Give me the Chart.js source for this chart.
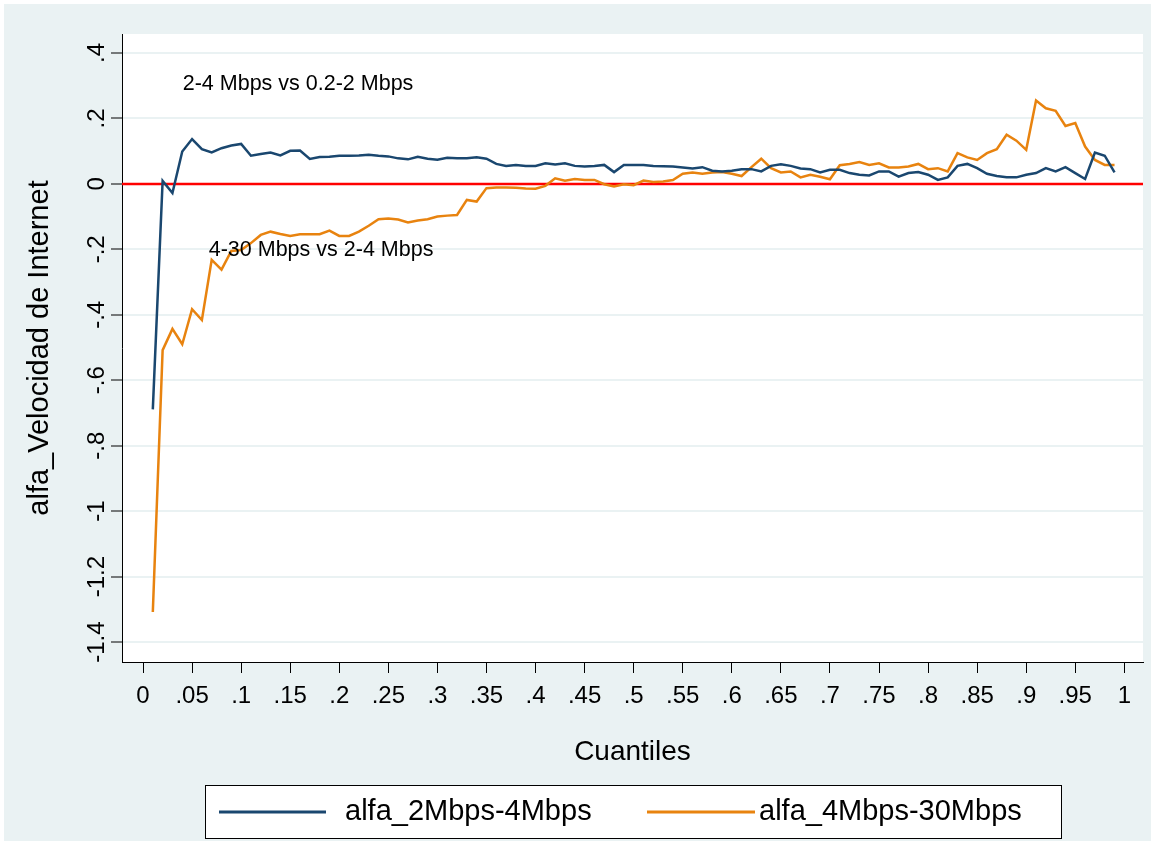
<!DOCTYPE html>
<html>
<head>
<meta charset="utf-8">
<script src="https://cdn.jsdelivr.net/npm/chart.js@4.4.1/dist/chart.umd.min.js"></script>
<style>
  html, body { margin: 0; padding: 0; background: #fff; }
  #wrap { position: relative; width: 1155px; height: 845px; }
</style>
</head>
<body>
<div id="wrap"><canvas id="grafico" width="1155" height="845"></canvas></div>
<script>
const cuantiles = [
  0.01, 0.02, 0.03, 0.04, 0.05, 0.06, 0.07, 0.08, 0.09, 0.10,
  0.11, 0.12, 0.13, 0.14, 0.15, 0.16, 0.17, 0.18, 0.19, 0.20,
  0.21, 0.22, 0.23, 0.24, 0.25, 0.26, 0.27, 0.28, 0.29, 0.30,
  0.31, 0.32, 0.33, 0.34, 0.35, 0.36, 0.37, 0.38, 0.39, 0.40,
  0.41, 0.42, 0.43, 0.44, 0.45, 0.46, 0.47, 0.48, 0.49, 0.50,
  0.51, 0.52, 0.53, 0.54, 0.55, 0.56, 0.57, 0.58, 0.59, 0.60,
  0.61, 0.62, 0.63, 0.64, 0.65, 0.66, 0.67, 0.68, 0.69, 0.70,
  0.71, 0.72, 0.73, 0.74, 0.75, 0.76, 0.77, 0.78, 0.79, 0.80,
  0.81, 0.82, 0.83, 0.84, 0.85, 0.86, 0.87, 0.88, 0.89, 0.90,
  0.91, 0.92, 0.93, 0.94, 0.95, 0.96, 0.97, 0.98, 0.99,
];

const alfa2a4 = [
  -0.689, 0.009, -0.028, 0.099, 0.137, 0.106, 0.096, 0.109, 0.117, 0.122,
  0.086, 0.091, 0.096, 0.087, 0.101, 0.102, 0.076, 0.082, 0.083, 0.086,
  0.086, 0.087, 0.089, 0.086, 0.084, 0.078, 0.075, 0.083, 0.077, 0.074,
  0.080, 0.078, 0.078, 0.081, 0.077, 0.061, 0.055, 0.058, 0.055, 0.055,
  0.063, 0.059, 0.063, 0.055, 0.053, 0.055, 0.058, 0.036, 0.058, 0.058,
  0.058, 0.055, 0.054, 0.053, 0.050, 0.047, 0.051, 0.040, 0.038, 0.040,
  0.045, 0.045, 0.038, 0.055, 0.060, 0.055, 0.047, 0.045, 0.035, 0.043,
  0.043, 0.033, 0.028, 0.026, 0.038, 0.038, 0.022, 0.033, 0.036, 0.028,
  0.012, 0.020, 0.055, 0.061, 0.048, 0.031, 0.024, 0.020, 0.020, 0.028,
  0.033, 0.048, 0.038, 0.051, 0.033, 0.015, 0.096, 0.086, 0.035,
];

const alfa4a30 = [
  -1.308, -0.508, -0.443, -0.490, -0.383, -0.416, -0.232, -0.262, -0.205, -0.202,
  -0.181, -0.156, -0.146, -0.153, -0.159, -0.154, -0.154, -0.154, -0.143, -0.159,
  -0.159, -0.146, -0.128, -0.108, -0.106, -0.109, -0.118, -0.112, -0.108, -0.100,
  -0.097, -0.095, -0.049, -0.054, -0.013, -0.011, -0.011, -0.012, -0.014, -0.015,
  -0.006, 0.017, 0.010, 0.015, 0.012, 0.012, -0.001, -0.008, -0.001, -0.004,
  0.010, 0.006, 0.007, 0.012, 0.031, 0.035, 0.031, 0.035, 0.036, 0.031,
  0.024, 0.051, 0.077, 0.048, 0.035, 0.038, 0.020, 0.028, 0.022, 0.014,
  0.057, 0.061, 0.067, 0.058, 0.063, 0.050, 0.050, 0.053, 0.061, 0.045,
  0.048, 0.038, 0.094, 0.081, 0.073, 0.094, 0.106, 0.150, 0.132, 0.104,
  0.255, 0.231, 0.223, 0.177, 0.186, 0.114, 0.073, 0.058, 0.058,
];

const ticksX = [0, 0.05, 0.1, 0.15, 0.2, 0.25, 0.3, 0.35, 0.4, 0.45, 0.5,
  0.55, 0.6, 0.65, 0.7, 0.75, 0.8, 0.85, 0.9, 0.95, 1];
const ticksY = [0.4, 0.2, 0, -0.2, -0.4, -0.6, -0.8, -1, -1.2, -1.4];
const lineaRef = [0];

// textos dentro del grafico (posicion en unidades de los ejes)
const notas = [
  { texto: '2-4 Mbps vs 0.2-2 Mbps', x: 0.0405, y: 0.306 },
  { texto: '4-30 Mbps vs 2-4 Mbps', x: 0.067, y: -0.202 },
];

const FUENTE = '"Liberation Sans", Arial, sans-serif';
const AZUL = '#1a476f';
const NARANJA = '#e8830f';
const FONDO = '#eaf2f3';

// 0.05 -> .05 , -0.2 -> -.2 (estilo Stata)
function etiqueta(v) {
  const s = String(Math.round(v * 100) / 100);
  return s.replace(/^(-?)0\./, '$1.');
}

function puntos(valores) {
  return cuantiles.map((q, i) => ({ x: q, y: valores[i] }));
}

const fondoPlugin = {
  id: 'fondo',
  beforeDraw(chart) {
    const ctx = chart.ctx;
    const a = chart.chartArea;
    ctx.save();
    ctx.fillStyle = '#fff';
    ctx.fillRect(0, 0, chart.width, chart.height);
    ctx.fillStyle = FONDO;
    ctx.fillRect(4, 4, chart.width - 8, chart.height - 8);
    ctx.fillStyle = '#fff';
    ctx.fillRect(a.left, a.top, a.right - a.left, a.bottom - a.top);
    ctx.restore();
  },
  beforeDatasetsDraw(chart) {
    const ctx = chart.ctx;
    const a = chart.chartArea;
    const yScale = chart.scales.y;
    ctx.save();
    ctx.strokeStyle = '#ff0000';
    ctx.lineWidth = 2.5;
    lineaRef.forEach((v) => {
      const py = yScale.getPixelForValue(v);
      ctx.beginPath();
      ctx.moveTo(a.left, py);
      ctx.lineTo(a.right, py);
      ctx.stroke();
    });
    ctx.restore();
  },
  afterDraw(chart) {
    const ctx = chart.ctx;
    const xScale = chart.scales.x;
    const yScale = chart.scales.y;
    ctx.save();

    // etiquetas del eje y, giradas como en Stata
    ctx.fillStyle = '#000';
    ctx.font = '24px ' + FUENTE;
    ctx.textAlign = 'center';
    ctx.textBaseline = 'middle';
    yScale.ticks.forEach((t) => {
      const py = yScale.getPixelForValue(t.value);
      ctx.save();
      ctx.translate(97, py);
      ctx.rotate(-Math.PI / 2);
      ctx.fillText(etiqueta(t.value), 0, 0);
      ctx.restore();
    });

    ctx.font = '21.5px ' + FUENTE;
    ctx.textAlign = 'left';
    notas.forEach((n) => {
      ctx.fillText(n.texto, xScale.getPixelForValue(n.x), yScale.getPixelForValue(n.y));
    });

    // leyenda
    ctx.fillStyle = '#fff';
    ctx.fillRect(205.5, 785.5, 856, 53);
    ctx.strokeStyle = '#000';
    ctx.lineWidth = 1;
    ctx.strokeRect(205.5, 785.5, 856, 53);
    const entradas = [
      { x0: 219, x1: 326, tx: 345 },
      { x0: 647, x1: 755, tx: 759 },
    ];
    ctx.font = '29px ' + FUENTE;
    chart.data.datasets.forEach((ds, i) => {
      const e = entradas[i];
      ctx.strokeStyle = ds.borderColor;
      ctx.lineWidth = 3;
      ctx.beginPath();
      ctx.moveTo(e.x0, 812);
      ctx.lineTo(e.x1, 812);
      ctx.stroke();
      ctx.fillStyle = '#000';
      ctx.fillText(ds.label, e.tx, 812);
    });
    ctx.restore();
  },
};

const grafico = new Chart(document.getElementById('grafico'), {
  type: 'line',
  data: {
    datasets: [
      {
        label: 'alfa_2Mbps-4Mbps',
        data: puntos(alfa2a4),
        borderColor: AZUL,
        borderWidth: 2.5,
        pointRadius: 0,
        tension: 0,
      },
      {
        label: 'alfa_4Mbps-30Mbps',
        data: puntos(alfa4a30),
        borderColor: NARANJA,
        borderWidth: 2.5,
        pointRadius: 0,
        tension: 0,
      },
    ],
  },
  options: {
    responsive: false,
    animation: false,
    layout: { padding: { left: 0, top: 34, right: 12, bottom: 0 } },
    plugins: {
      legend: { display: false },
      tooltip: { enabled: false },
    },
    scales: {
      x: {
        type: 'linear',
        min: -0.0214,
        max: 1.019,
        afterBuildTicks(scale) {
          scale.ticks = ticksX.map((v) => ({ value: v }));
        },
        afterFit(scale) {
          scale.height = 183;
        },
        grid: {
          drawOnChartArea: false,
          tickLength: 11,
          tickColor: '#000',
        },
        border: { display: true, color: '#000', width: 1 },
        ticks: {
          autoSkip: false,
          maxRotation: 0,
          padding: 9,
          color: '#000',
          font: { family: FUENTE, size: 24 },
          callback: (v) => etiqueta(v),
        },
        title: {
          display: true,
          text: 'Cuantiles',
          color: '#000',
          font: { family: FUENTE, size: 28 },
          padding: { top: 0, bottom: 76 },
        },
      },
      y: {
        type: 'linear',
        min: -1.461,
        max: 0.458,
        afterBuildTicks(scale) {
          scale.ticks = ticksY.map((v) => ({ value: v }));
        },
        afterFit(scale) {
          scale.width = 122;
        },
        grid: {
          color: FONDO,
          lineWidth: 2,
          tickLength: 11,
          tickColor: '#000',
          tickWidth: 1,
        },
        border: { display: true, color: '#000', width: 1 },
        ticks: { display: false },
        title: {
          display: true,
          text: 'alfa_Velocidad de Internet',
          color: '#000',
          font: { family: FUENTE, size: 29 },
          padding: { top: 23, bottom: 0 },
        },
      },
    },
  },
  plugins: [fondoPlugin],
});
</script>
</body>
</html>
